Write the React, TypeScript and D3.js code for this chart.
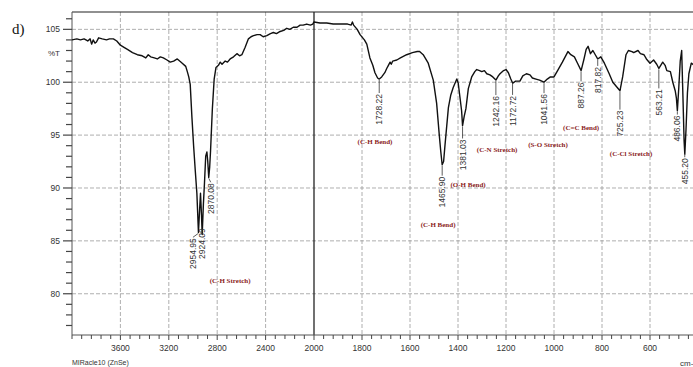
import React from 'react';
import * as d3 from 'd3';

// FTIR spectrum, wavenumber (cm-1) vs %T
const wavenumbers = [
  4000, 3960, 3930, 3900, 3870, 3850, 3838, 3825, 3810, 3798, 3780, 3750, 3715, 3690, 3658, 3630,
  3600, 3570, 3542, 3500, 3460, 3420, 3390, 3370, 3350, 3320, 3295, 3270, 3245, 3215, 3188, 3160,
  3130, 3110, 3089, 3060, 3047, 3035, 3023, 3009, 2995, 2981, 2968, 2955, 2945, 2938, 2930, 2924,
  2914, 2905, 2895, 2885, 2878, 2870, 2862, 2855, 2840, 2825, 2810, 2790, 2775, 2760, 2734, 2715,
  2693, 2665, 2637, 2615, 2596, 2569, 2542, 2520, 2500, 2470, 2445, 2420, 2390, 2360, 2336, 2310,
  2280, 2250, 2225, 2200, 2171, 2140, 2115, 2090, 2060, 2030, 2010, 2000, 1975, 1947, 1920, 1892,
  1860, 1845, 1840, 1835, 1820, 1808, 1790, 1780, 1767, 1755, 1746, 1735, 1728, 1718, 1705, 1697,
  1690, 1683, 1678, 1672, 1655, 1640, 1614, 1590, 1570, 1560, 1545, 1524, 1503, 1489, 1478, 1472,
  1466, 1460, 1454, 1440, 1430, 1420, 1405, 1399, 1392, 1385, 1381, 1374, 1367, 1357, 1343, 1330,
  1322, 1310, 1301, 1290, 1280, 1267, 1255, 1242, 1232, 1225, 1210, 1200, 1190, 1180, 1172, 1160,
  1142, 1130, 1115, 1100, 1090, 1075, 1060, 1042, 1028, 1015, 1000, 985, 965, 942, 930, 915,
  902, 887, 875, 866, 858, 848, 838, 828, 818, 805, 790, 770, 755, 740, 725, 714,
  700, 690, 675, 668, 650, 640, 625, 615, 600, 585, 572, 563, 547, 537, 530, 515,
  505, 495, 490, 486, 480, 474, 468, 462, 458, 455, 450, 444, 438, 428, 410, 400,
];
const transmittance = [
  104.0, 104.1, 104.0, 104.1, 103.9, 104.1, 103.6, 104.0, 103.7, 103.8, 104.2, 104.1, 104.0, 104.1, 104.1, 103.9,
  103.5, 103.3, 103.1, 102.8, 102.6, 102.5, 102.3, 102.6, 102.4, 102.3, 102.2, 102.4, 102.3, 102.1, 101.9, 102.0,
  102.2, 102.0, 101.8, 101.5, 101.0, 100.5, 99.8, 96.7, 94.0, 91.6, 89.5, 85.8, 88.0, 89.5, 87.5, 85.6,
  88.5, 90.5, 93.0, 93.4, 92.5, 91.0, 92.0, 93.5, 97.5, 100.3, 101.4, 101.6, 101.9, 101.7, 102.0, 101.9,
  102.2, 102.4, 102.7, 102.5, 102.6, 103.3, 104.1, 104.3, 104.4, 104.5, 104.5, 104.3, 104.4, 104.6, 104.7, 104.6,
  104.8, 104.9, 105.1, 105.0, 105.2, 105.2, 105.4, 105.4, 105.5, 105.4, 105.5, 105.7, 105.6, 105.6, 105.5, 105.5,
  105.5, 105.4, 105.7, 105.4, 105.0, 104.5, 104.0, 103.6, 102.3, 101.6, 100.9, 100.4, 100.3, 100.5, 100.9, 101.3,
  101.6, 101.9, 101.7, 102.0, 102.1, 102.3, 102.6, 102.8, 102.9, 102.9, 102.6, 101.8, 100.2, 98.0, 95.0, 93.5,
  92.2, 92.5, 94.1, 97.6, 98.8, 99.5, 100.3, 99.9, 98.6, 97.3, 95.9, 96.8, 97.5, 99.4, 100.5, 101.0,
  101.2, 101.1, 101.0, 101.1, 100.8, 100.7, 100.5, 100.2, 100.6, 100.8, 101.1, 101.2, 100.9, 100.3, 99.9, 100.1,
  100.1, 100.6, 100.8, 100.7, 100.4, 100.3, 100.2, 100.0, 100.3, 100.5, 100.5, 101.1, 101.9, 102.9, 102.6, 102.4,
  101.8, 101.1, 102.2, 103.1, 103.4, 102.7, 103.0, 102.6, 102.2, 102.4, 101.8, 100.8, 100.0, 99.6, 99.2, 100.5,
  102.6, 103.0, 102.9, 102.8, 103.0, 102.7, 102.6, 102.2, 101.8, 102.1, 101.7, 101.3, 101.9, 101.6, 101.1, 101.0,
  100.0, 99.2, 98.5, 97.3, 99.5, 102.0, 103.0, 98.0, 94.5, 93.2, 95.5, 99.0, 100.8, 101.8, 101.5, 101.5,
];

// labelled peaks
const peakWavenumbers = [2954.95, 2924.09, 2870.08, 1728.22, 1465.9, 1381.03, 1242.16, 1172.72, 1041.56, 887.26, 817.82, 725.23, 563.21, 486.06, 455.2];
const peakLabels = ['2954.95', '2924.09', '2870.08', '1728.22', '1465.90', '1381.03', '1242.16', '1172.72', '1041.56', '887.26', '817.82', '725.23', '563.21', '486.06', '455.20'];

// band assignments (wavenumber, %T of the text)
const bandNames = ['(C-H Stretch)', '(C-H Bend)', '(C-H Bend)', '(O-H Bend)', '(C-N Stretch)', '(S-O Stretch)', '(C=C Bend)', '(C-Cl Stretch)'];
const bandWavenumbers = [2693, 1746, 1483, 1358, 1237, 1025, 887, 679];
const bandLevels = [81.0, 94.2, 86.3, 90.1, 93.4, 93.9, 95.5, 93.0];

const xTickValues = [3600, 3200, 2800, 2400, 2000, 1800, 1600, 1400, 1200, 1000, 800, 600];
const yTickValues = [80, 85, 90, 95, 100, 105];

const W = 693;
const H = 367;
const left = 72;
const top = 12;
const bottom = 335;

const x = d3.scaleLinear().domain([4000, 2000, 400]).range([left, 314, 698]);
const y = d3.scaleLinear().domain([76.1, 106.64]).range([bottom, top]);

const valueAt = (wn: number) => {
  for (let i = 0; i < wavenumbers.length - 1; i++) {
    const a = wavenumbers[i], b = wavenumbers[i + 1];
    if (wn <= a && wn >= b) {
      const t = (a - wn) / (a - b);
      return transmittance[i] + t * (transmittance[i + 1] - transmittance[i]);
    }
  }
  return transmittance[transmittance.length - 1];
};

// tick length under the curve, and small shifts for crowded labels
const tickLen: Record<string, number> = {
  '2954.95': 4, '2924.09': 0, '2870.08': 4, '1728.22': 13, '1465.90': 10, '1381.03': 12,
  '1242.16': 14, '1172.72': 11, '1041.56': 10, '887.26': 10, '817.82': 6, '725.23': 18,
  '563.21': 19, '486.06': 3, '455.20': 3,
};
const shift: Record<string, [number, number]> = {
  '2954.95': [-5.5, 0],
  '2924.09': [0, -8],
  '2870.08': [2, 0],
};

const line = d3.line<number>()
  .x((d) => x(d))
  .y((d, i) => y(transmittance[i]));

const App = () => {
  const minorY = d3.range(77, 107, 1);
  const minorX = [...d3.range(4000, 2000, -80), ...d3.range(2000, 399, -40)];
  const sans = 'Liberation Sans, Arial, sans-serif';

  return (
    <svg width={W} height={H} style={{ position: 'absolute', left: 0, top: 0, background: '#fff' }}>
      <defs>
        <clipPath id="plot">
          <rect x={left} y={top} width={W - left} height={bottom - top} />
        </clipPath>
      </defs>

      {/* grid */}
      {yTickValues.map((v) => (
        <line key={'gy' + v} x1={left} x2={W} y1={y(v)} y2={y(v)} stroke="#9a9a9a" strokeWidth={0.8} strokeDasharray="4,2" />
      ))}
      {xTickValues.filter((v) => v !== 2000).map((v) => (
        <line key={'gx' + v} x1={x(v)} x2={x(v)} y1={top} y2={bottom} stroke="#9a9a9a" strokeWidth={0.8} strokeDasharray="4,2" />
      ))}
      <line x1={x(2000)} x2={x(2000)} y1={top} y2={bottom} stroke="#111" strokeWidth={1.2} />

      {/* frame */}
      <line x1={left} x2={W} y1={top} y2={top} stroke="#222" strokeWidth={1.2} />
      <line x1={left} x2={left} y1={top} y2={bottom} stroke="#555" strokeWidth={1} />
      <line x1={left} x2={W} y1={bottom} y2={bottom} stroke="#555" strokeWidth={1} />

      {/* y ticks */}
      {minorY.map((v) => (
        <line key={'ty' + v} x1={v % 5 === 0 ? left - 9 : left - 6} x2={left} y1={y(v)} y2={y(v)} stroke="#444" strokeWidth={1.2} />
      ))}
      {yTickValues.map((v) => (
        <text key={'ly' + v} x={left - 12} y={y(v)} dy="0.35em" textAnchor="end" fontSize={8.5} fontFamily={sans} fill="#333">{v}</text>
      ))}
      <text x={left - 12} y={56} textAnchor="end" fontSize={8} fontFamily={sans} fill="#333">%T</text>

      {/* x ticks */}
      {minorX.map((v) => (
        <line key={'tx' + v} x1={x(v)} x2={x(v)} y1={bottom} y2={bottom + (xTickValues.includes(v) ? 5 : 4)} stroke="#444" strokeWidth={1} />
      ))}
      {xTickValues.map((v) => (
        <text key={'lx' + v} x={x(v)} y={351} textAnchor="middle" fontSize={8.5} fontFamily={sans} fill="#333">{v}</text>
      ))}
      <text x={left} y={365} fontSize={7} fontFamily={sans} fill="#333">MIRacle10 (ZnSe)</text>
      <text x={680} y={366} fontSize={8} fontFamily={sans} fill="#333">cm-1</text>

      <text x={12} y={34} fontSize={15} fontFamily="Liberation Serif, Times New Roman, serif" fill="#111">d)</text>

      {/* spectrum */}
      <path d={line(wavenumbers) || ''} fill="none" stroke="#111" strokeWidth={1.4} strokeLinejoin="round" clipPath="url(#plot)" />

      {/* peak labels */}
      {peakWavenumbers.map((wn, i) => {
        const lab = peakLabels[i];
        const [dx, dy] = shift[lab] || [0, 0];
        const px = x(wn);
        const cy = y(valueAt(wn)) + 1;
        const len = tickLen[lab];
        const ty = cy + len + 1 + dy;
        return (
          <g key={'p' + lab}>
            {len > 0 && <line x1={px} x2={px + dx} y1={cy} y2={cy + len} stroke="#333" strokeWidth={0.8} />}
            <text transform={`translate(${px + dx},${ty}) rotate(-90)`} dy="0.35em" textAnchor="end" fontSize={8.5} fontFamily={sans} fill="#333">{lab}</text>
          </g>
        );
      })}

      {/* band names */}
      {bandNames.map((name, i) => (
        <text key={'b' + i} x={x(bandWavenumbers[i])} y={y(bandLevels[i])} textAnchor="middle" fontSize={7} fontWeight="bold" fontFamily="Liberation Serif, Times New Roman, serif" fill="#8b1c1c">{name}</text>
      ))}
    </svg>
  );
};

export default App;
